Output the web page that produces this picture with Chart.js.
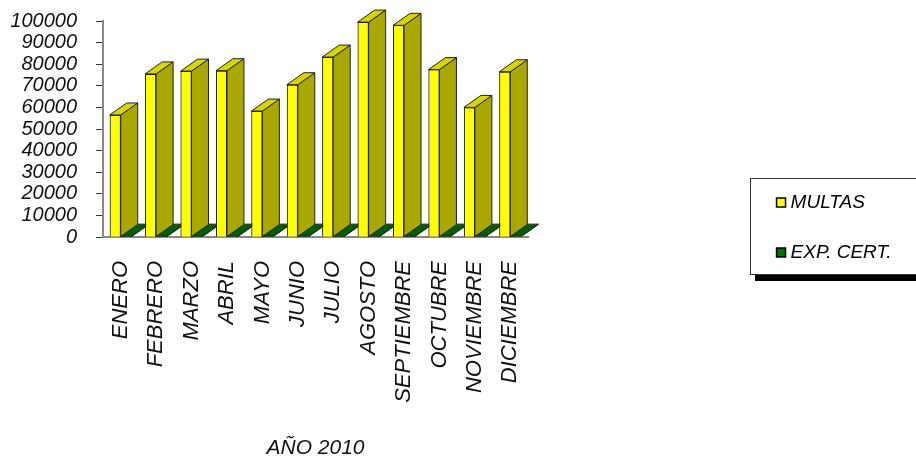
<!DOCTYPE html>
<html><head><meta charset="utf-8">
<style>html,body{margin:0;padding:0;background:#fff}#w{position:relative;width:916px;height:457px;overflow:hidden}canvas{filter:blur(0.4px)}</style>
<script src="https://cdn.jsdelivr.net/npm/chart.js@4/dist/chart.umd.min.js"></script>
</head><body><div id="w"><canvas id="c" width="916" height="457"></canvas></div>
<script>
const categories=['ENERO','FEBRERO','MARZO','ABRIL','MAYO','JUNIO','JULIO','AGOSTO','SEPTIEMBRE','OCTUBRE','NOVIEMBRE','DICIEMBRE'];
const multas=[56500,75500,76800,77000,58300,70500,83300,99500,98000,77500,60000,76500];
const expCert=[400,400,400,400,400,400,400,400,400,400,400,400];
const axisTitle='AÑO 2010';
const DX=17,DY=12;
function poly(ctx,pts,fill){ctx.beginPath();pts.forEach((p,i)=>i?ctx.lineTo(p[0],p[1]):ctx.moveTo(p[0],p[1]));ctx.closePath();ctx.fillStyle=fill;ctx.fill();ctx.strokeStyle='#222';ctx.lineWidth=1;ctx.stroke();}
function box3d(ctx,el,side,top){
  const l=el.x-el.width/2,r=el.x+el.width/2,t=el.y,b=el.base;
  poly(ctx,[[r,t],[r+DX,t-DY],[r+DX,b-DY],[r,b]],side);
  poly(ctx,[[l,t],[l+DX,t-DY],[r+DX,t-DY],[r,t]],top);
  el.draw(ctx);
}
const bars3d={id:'bars3d',afterDatasetsDraw(chart){
  const ctx=chart.ctx,a=chart.getDatasetMeta(0).data,g=chart.getDatasetMeta(1).data;
  ctx.save();
  a.forEach((el,i)=>{box3d(ctx,g[i],'#005000','#006000');box3d(ctx,el,'#A8A800','#D6D600');});
  ctx.restore();
}};
const legendFrame={id:'legendFrame',
  afterLayout(chart){
    const L=chart.legend;L.left=750;L.right=916;L.top=162;L.bottom=457;
    const y=chart.scales.y,area=chart.chartArea;
    y.top=21;y.bottom=237;y.height=216;y.configure();
    area.top=21;area.bottom=237;area.height=216;
  },
  beforeDraw(chart){const c=chart.ctx;c.save();
    c.fillStyle='#000';c.fillRect(755,275,170,6);
    c.fillStyle='#fff';c.strokeStyle='#333';c.lineWidth=1;c.fillRect(750.5,178.5,180,96);c.strokeRect(750.5,178.5,180,96);
    c.restore();}};
new Chart(document.getElementById('c'),{type:'bar',
  data:{labels:categories,datasets:[
    {label:'MULTAS',data:multas,backgroundColor:'#FFFF00',borderColor:'#222',borderWidth:1,categoryPercentage:0.62,barPercentage:1},
    {label:'EXP. CERT.',data:expCert,backgroundColor:'#007000',borderColor:'#222',borderWidth:1,categoryPercentage:0.62,barPercentage:1}]},
  plugins:[legendFrame,bars3d],
  options:{responsive:false,animation:false,
    layout:{autoPadding:false,padding:{left:0,top:21,right:388,bottom:-4}},
    plugins:{tooltip:{enabled:false},title:{display:false},
      legend:{position:'chartArea',align:'start',labels:{usePointStyle:true,pointStyle:'rect',boxWidth:0.1,boxHeight:9,padding:31,color:'#111',font:{family:'Liberation Sans',size:19,style:'italic'},
        generateLabels(chart){return chart.data.datasets.map((d,i)=>({text:d.label,fillStyle:d.backgroundColor,strokeStyle:'#000',lineWidth:1.5,pointStyle:'rect',datasetIndex:i}));}}}},
    scales:{
      y:{min:0,max:100000,afterFit(s){s.width=103;},
        ticks:{stepSize:10000,autoSkip:false,padding:19,color:'#111',font:{family:'Liberation Sans',size:20,style:'italic'},callback:v=>String(v)},
        grid:{drawOnChartArea:false,drawTicks:true,tickLength:7,tickColor:'#333',tickWidth:1},
        border:{color:'#888',width:2}},
      x:{afterFit(s){s.height=224;},
        ticks:{minRotation:90,maxRotation:90,autoSkip:false,padding:16,color:'#111',font:{family:'Liberation Sans',size:22,style:'italic'}},
        grid:{display:false},border:{color:'#888',width:2},
        title:{display:true,text:axisTitle,color:'#111',padding:0,font:{family:'Liberation Sans',size:21,style:'italic'}}}
    }}});
</script></body></html>
